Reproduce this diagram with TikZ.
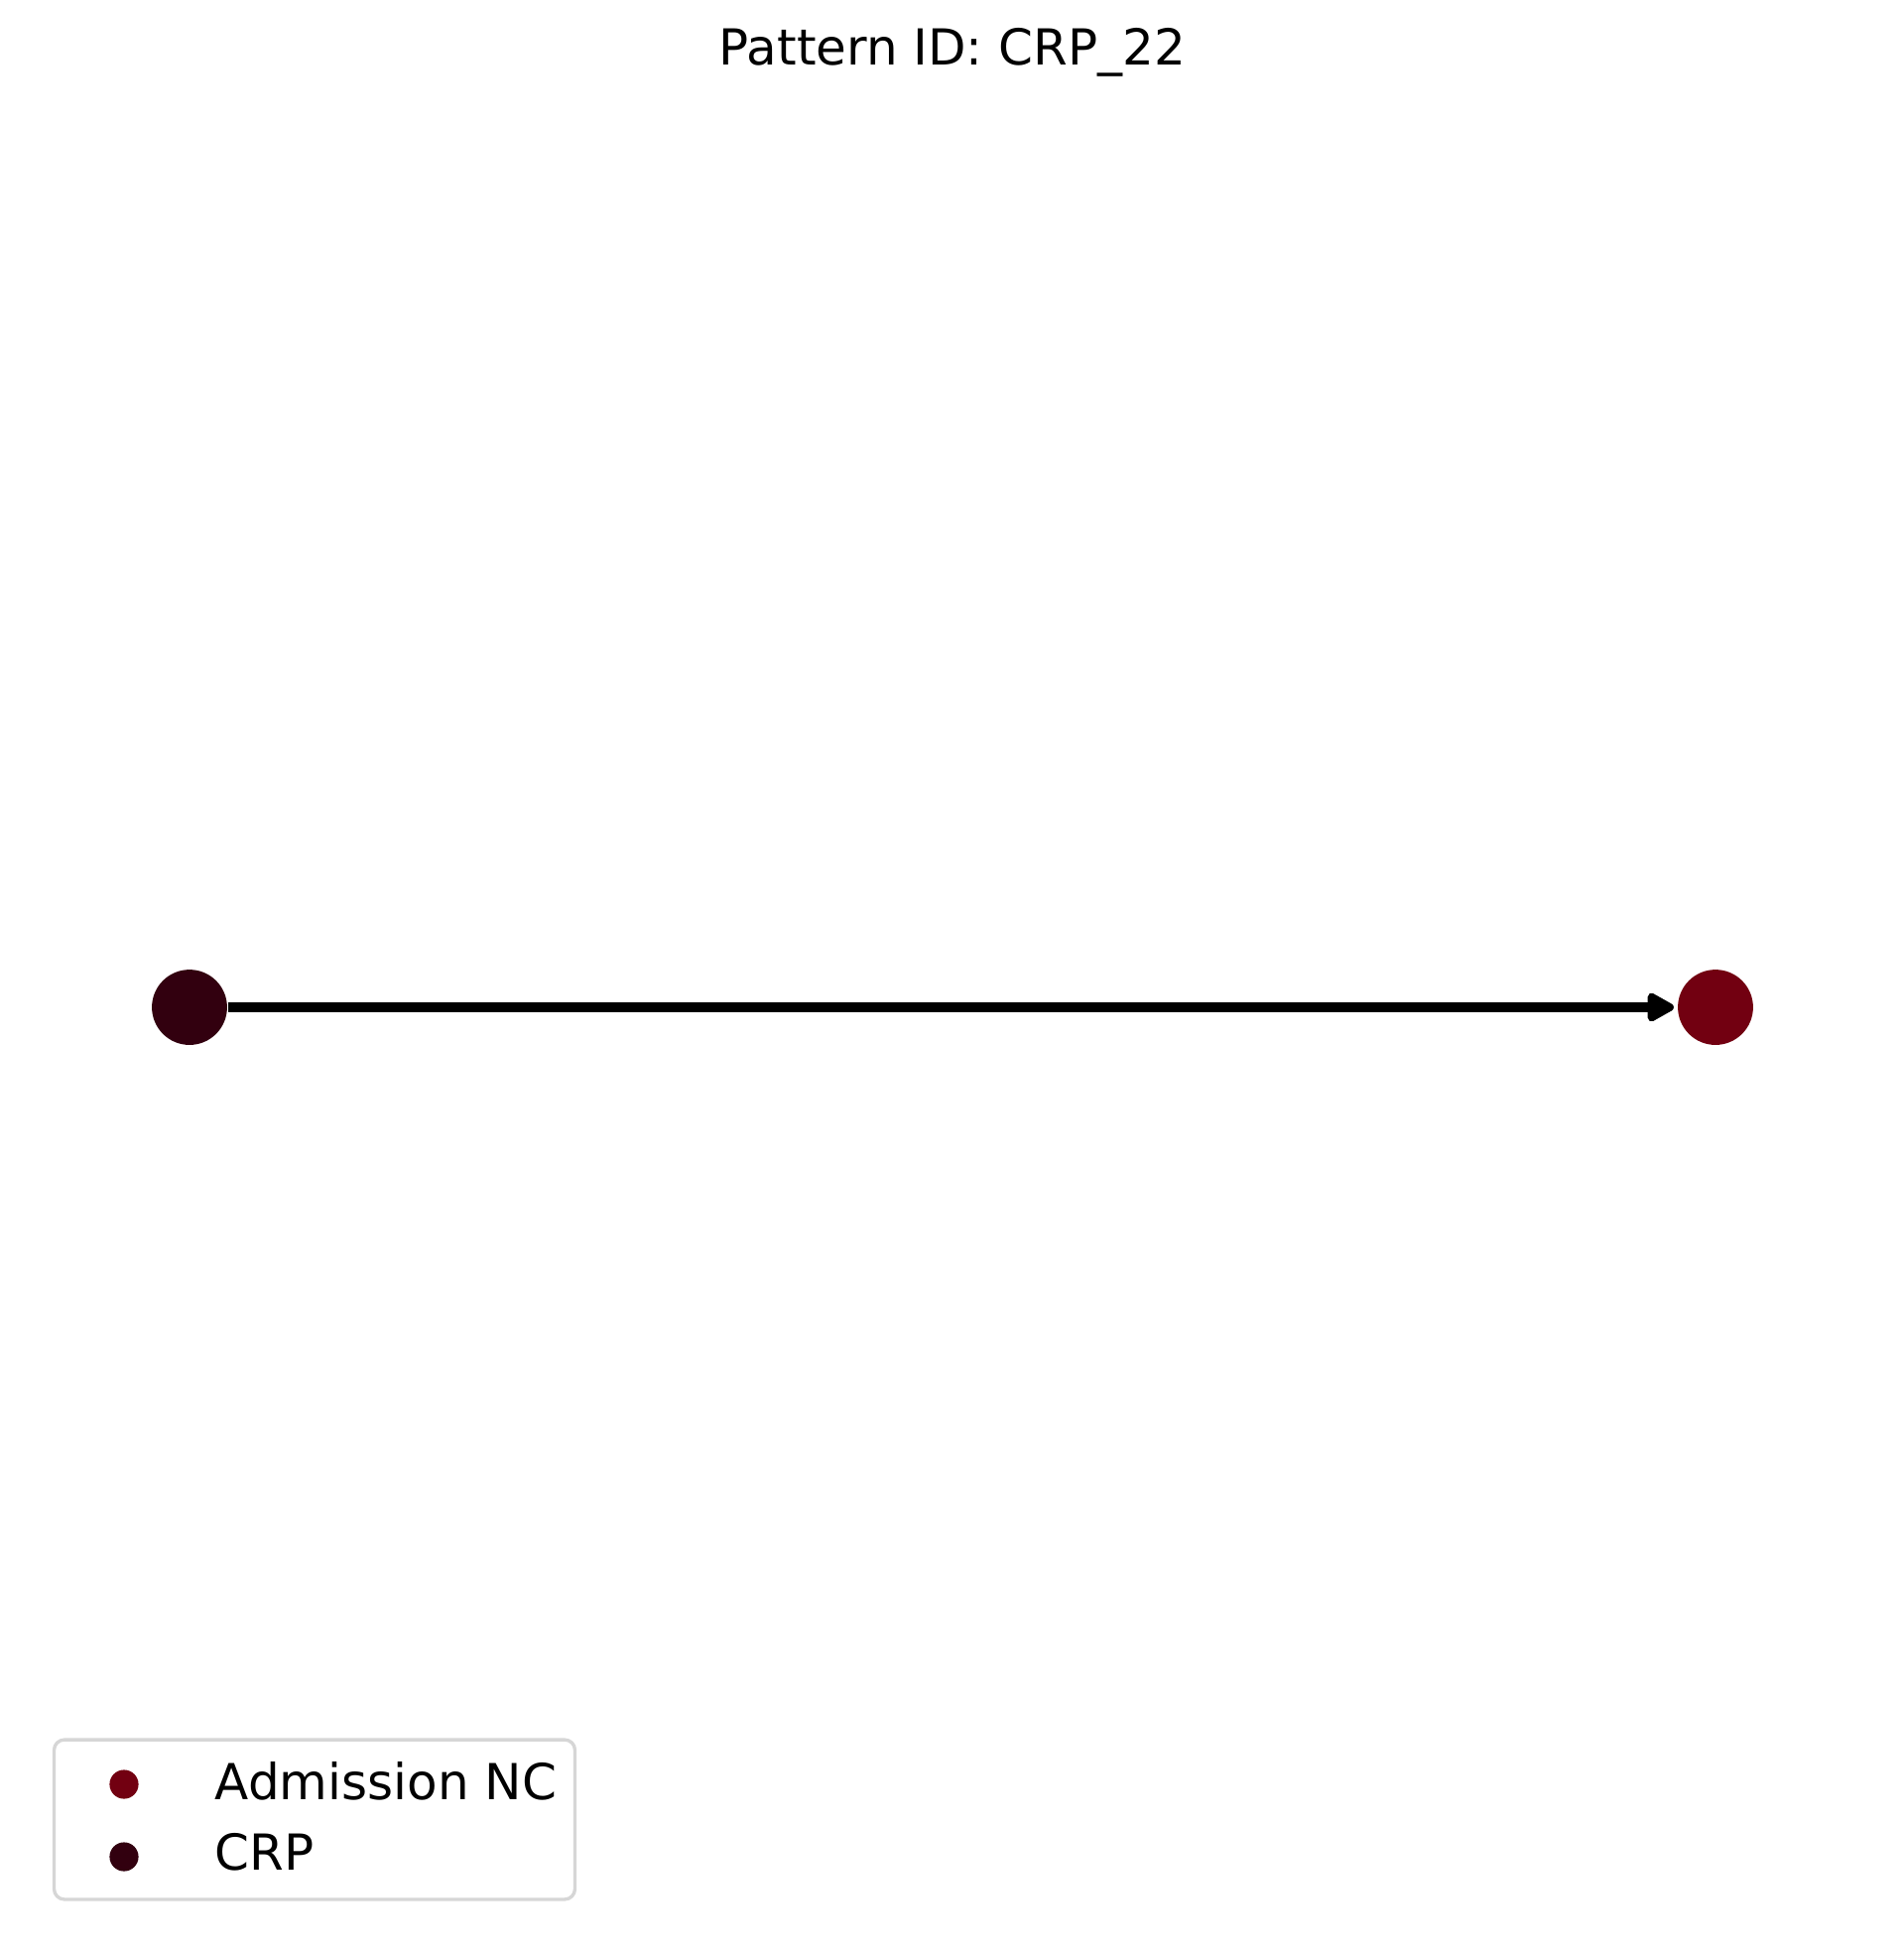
\documentclass[tikz,border=0pt]{standalone}
\usepackage{fontspec}
\setmainfont{DejaVu Sans}
\usepackage{xcolor}
\usetikzlibrary{arrows.meta,positioning}
\definecolor{crpcol}{HTML}{32000F}
\definecolor{admcol}{HTML}{720011}
\definecolor{legframe}{HTML}{D6D6D6}

\begin{document}
\begin{tikzpicture}[
    x=0.24pt, y=-0.24pt,
    font=\fontsize{12}{14}\selectfont,
    vertex/.style={circle, fill=#1, draw=none, minimum size=18.2pt, inner sep=0pt},
    legdot/.style={circle, fill=#1, draw=none, minimum size=7pt, inner sep=0pt},
    legtext/.style={anchor=base west, inner sep=0pt, text=black},
    edge/.style={-{Triangle[length=7.4pt,width=7.6pt,round]}, line width=2.2pt,
                 shorten >=0.8pt, draw=black}
]
\useasboundingbox (0,0) rectangle (1919,1969);

% Title
\node[anchor=base, inner sep=0pt] (title) at (960,65) {Pattern ID: CRP\_22};

% Pattern nodes
\node[vertex=crpcol] (crp) at (191,1015) {};
\node[vertex=admcol] (adm) at (1729,1015) {};

% Edge
\draw[edge] (crp) -- (adm);

% Legend
\node[draw=legframe, line width=0.8pt, rounded corners=2.5pt, fill=white,
      minimum width=126pt, minimum height=38.6pt, inner sep=0pt] (legend) at (317,1833.5) {};
\node[legdot=admcol] (ldotadm) at (125,1798) {};
\node[legdot=crpcol] (ldotcrp) at (125,1871) {};
\node[legtext] (ltxtadm) at (216,1813) {Admission NC};
\node[legtext] (ltxtcrp) at (216,1884) {CRP};

\end{tikzpicture}
\end{document}
